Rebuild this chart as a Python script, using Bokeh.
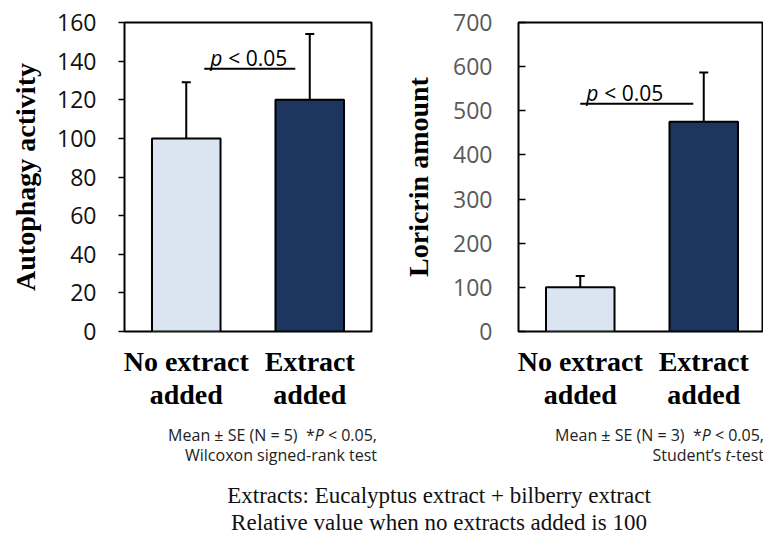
from bokeh.plotting import figure
from bokeh.models import Range1d, FixedTicker, Whisker, ColumnDataSource, Div, TeeHead, Label
from bokeh.layouts import row, column
from bokeh.embed import file_html
from bokeh.resources import INLINE

# ---- data ----
groups = ["No extract\nadded", "Extract\nadded"]
autophagy_mean = [100, 120]
autophagy_se = [29, 34]
autophagy_sig_level = 136
autophagy_ticks = [0, 20, 40, 60, 80, 100, 120, 140, 160]

loricrin_mean = [100, 475]
loricrin_se = [26, 112]
loricrin_sig_level = 516
loricrin_ticks = [0, 100, 200, 300, 400, 500, 600, 700]

bar_colors = ["#dbe4f1", "#1d365f"]

SANS = "Open Sans"
SERIF = "Liberation Serif"


def panel(means, ses, sig, ticks, ylabel, frame_w, x_end, border_l, border_r,
          tick_out, tick_in, label_color, label_standoff, title_standoff,
          sig_from, sig_to):
    pos = [i + 0.5 for i in range(len(groups))]
    p = figure(frame_width=frame_w, frame_height=309,
               min_border_left=border_l, min_border_right=border_r,
               min_border_top=22, min_border_bottom=87,
               x_range=Range1d(0, x_end), y_range=Range1d(ticks[0], ticks[-1]),
               output_backend="svg", toolbar_location=None)
    p.grid.visible = False
    p.outline_line_color = "black"
    p.outline_line_width = 2
    p.background_fill_color = "white"
    p.border_fill_color = "white"

    p.vbar(x=pos, top=means, bottom=0, width=0.555, fill_color=bar_colors,
           line_color="black", line_width=2)
    src = ColumnDataSource(dict(base=pos, lower=means,
                                upper=[m + s for m, s in zip(means, ses)]))
    p.add_layout(Whisker(base="base", lower="lower", upper="upper", source=src,
                         line_color="black", line_width=2, lower_head=None,
                         upper_head=TeeHead(size=9, line_color="black", line_width=2)))

    x0 = pos[0] + sig_from
    x1 = pos[0] + sig_to
    p.segment(x0=[x0], y0=[sig], x1=[x1], y1=[sig], line_color="black", line_width=2)
    p.add_layout(Label(x=x0, y=sig, x_offset=6, y_offset=11, text="p",
                       text_font=SANS, text_font_style="italic",
                       text_font_size="21px", text_baseline="alphabetic",
                       text_color="black"))
    p.add_layout(Label(x=x0, y=sig, x_offset=24, y_offset=11, text="< 0.05",
                       text_font=SANS, text_font_size="21px",
                       text_baseline="alphabetic", text_color="black"))

    ya = p.yaxis[0]
    ya.ticker = FixedTicker(ticks=ticks)
    ya.axis_line_color = None
    ya.major_tick_out = tick_out
    ya.major_tick_in = tick_in
    ya.major_tick_line_width = 1.5
    ya.major_tick_line_color = "black"
    ya.minor_tick_out = 0
    ya.minor_tick_in = 0
    ya.major_label_text_font = SANS
    ya.major_label_text_font_size = "23px"
    ya.major_label_text_line_height = 1.0
    ya.major_label_text_color = label_color
    ya.major_label_standoff = label_standoff
    ya.axis_label = ylabel
    ya.axis_label_text_font = SERIF
    ya.axis_label_text_font_style = "bold"
    ya.axis_label_text_font_size = "28px"
    ya.axis_label_text_color = "black"
    ya.axis_label_standoff = title_standoff

    xa = p.xaxis[0]
    xa.ticker = FixedTicker(ticks=pos)
    xa.major_label_overrides = {pos[i]: groups[i] for i in range(len(groups))}
    xa.axis_line_color = None
    xa.major_tick_out = 0
    xa.major_tick_in = 0
    xa.minor_tick_out = 0
    xa.minor_tick_in = 0
    xa.major_label_text_font = SERIF
    xa.major_label_text_font_style = "bold"
    xa.major_label_text_font_size = "28px"
    xa.major_label_text_line_height = 1.08
    xa.major_label_text_color = "black"
    xa.major_label_standoff = 14
    return p


p1 = panel(autophagy_mean, autophagy_se, autophagy_sig_level, autophagy_ticks,
           "Autophagy activity", 247, 2.0, 124, 24, 6, 0, "#111111", 22, 13,
           0.146, 0.883)
p2 = panel(loricrin_mean, loricrin_se, loricrin_sig_level, loricrin_ticks,
           "Loricrin amount", 245, 245 / 123.5, 123, 0, 0, 7, "#595959", 26, 16,
           0.0, 0.915)

note_style = ("position:absolute; top:2px; text-align:right; font-family:'Open Sans'; "
              "font-size:16px; line-height:20px; color:#222; white-space:nowrap;")
html = (
    "<div style=\"position:relative; width:763px; height:110px;\">"
    f"<div style=\"{note_style} right:391px;\">Mean &plusmn; SE (N = 5)&nbsp; *<i>P</i> &lt; 0.05,<br>Wilcoxon signed-rank test</div>"
    f"<div style=\"{note_style} right:4px;\">Mean &plusmn; SE (N = 3)&nbsp; *<i>P</i> &lt; 0.05,<br>Student&rsquo;s <i>t</i>-test</div>"
    "<div style=\"position:absolute; top:59px; left:0px; width:868px; text-align:center; "
    "font-family:'Liberation Serif'; font-size:23px; line-height:27px; color:#111; white-space:nowrap;\">"
    "Extracts: Eucalyptus extract + bilberry extract<br>Relative value when no extracts added is 100</div>"
    "</div>"
)
div = Div(text=html, width=763, height=110)

layout = column(row(p1, p2), div)
open("out.html", "w").write(file_html(layout, INLINE))
